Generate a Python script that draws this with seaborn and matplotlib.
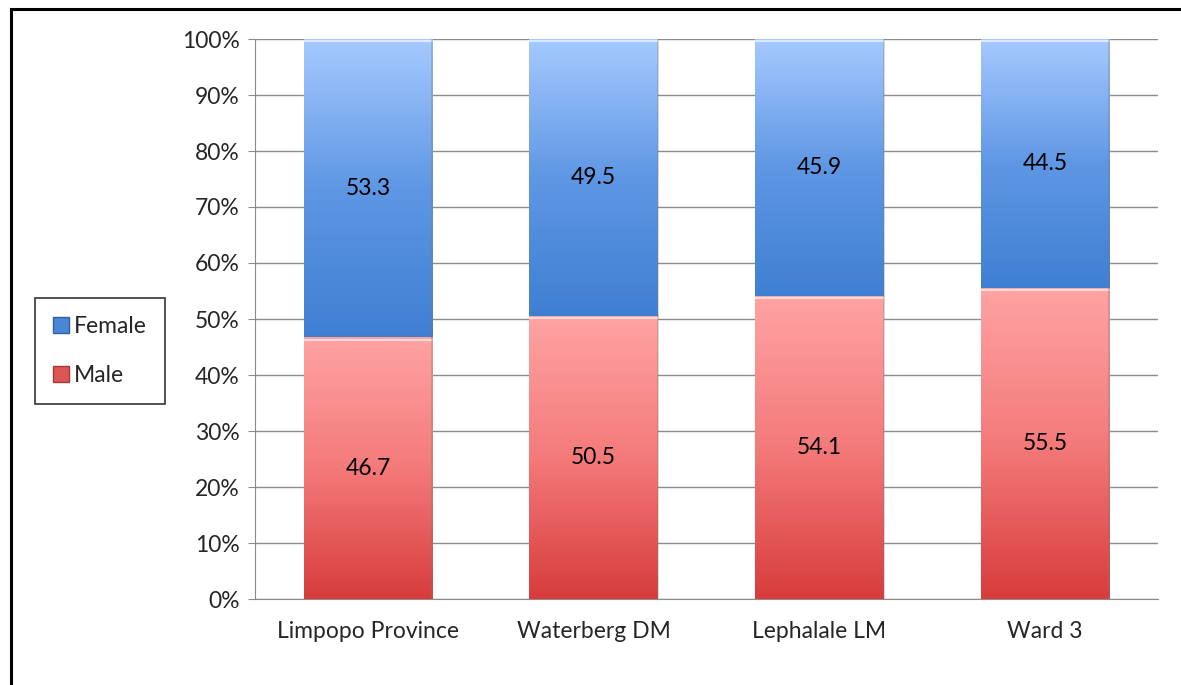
import numpy as np
import pandas as pd
import matplotlib
matplotlib.use("Agg")
import matplotlib.pyplot as plt
import seaborn as sns
from matplotlib.colors import LinearSegmentedColormap
from matplotlib.patches import Patch, Rectangle
from matplotlib.ticker import PercentFormatter

regions = ["Limpopo Province", "Waterberg DM", "Lephalale LM", "Ward 3"]
male = [46.7, 50.5, 54.1, 55.5]
female = [53.3, 49.5, 45.9, 44.5]

sns.set_style("white")
plt.rcParams["font.family"] = ["Lato", "DejaVu Sans"]

df = pd.DataFrame({"region": regions, "Male": male, "Female": female})
df["Total"] = df["Male"] + df["Female"]

fig = plt.figure(figsize=(11.81, 6.85), dpi=100)
ax = fig.add_axes([255 / 1181, 1 - 599 / 685, (1158 - 255) / 1181, (599 - 39) / 685])

# stacked: draw total (female colour) then male on top of it
sns.barplot(data=df, x="region", y="Total", color="#4a86d6", width=0.57, ax=ax,
            edgecolor="none", zorder=2)
sns.barplot(data=df, x="region", y="Male", color="#d94141", width=0.57, ax=ax,
            edgecolor="none", zorder=2)

red_cmap = LinearSegmentedColormap.from_list("red", ["#d83c3c", "#f47a7a", "#ffa3a3"])
blue_cmap = LinearSegmentedColormap.from_list("blue", ["#3f7fd2", "#5f97e4", "#a6caff"])

n = len(regions)
grad = np.linspace(0, 1, 256).reshape(-1, 1)
for i, p in enumerate(ax.patches):
    x0, w = p.get_x(), p.get_width()
    if i < n:
        # female segment sits above male
        y0, y1 = male[i], male[i] + female[i]
        cmap = blue_cmap
    else:
        y0, y1 = 0, male[i - n]
        cmap = red_cmap
    p.set_alpha(0)
    im = ax.imshow(grad, cmap=cmap, aspect="auto", origin="lower",
                   extent=(x0, x0 + w, y0, y1), zorder=3)
    clip = Rectangle((x0, y0), w, y1 - y0, transform=ax.transData)
    im.set_clip_path(clip)
    # thin light highlight on top edge and soft shadow on sides
    ax.plot([x0, x0 + w], [y1 - 0.4, y1 - 0.4], color="white", lw=1.5, alpha=0.6, zorder=4)
    ax.plot([x0 + w, x0 + w], [y0, y1], color="#7a7a7a", lw=1.2, alpha=0.35, zorder=4)

for i in range(n):
    ax.text(i, male[i] / 2, f"{male[i]:.1f}", ha="center", va="center",
            fontsize=16.5, color="black", zorder=5)
    ax.text(i, male[i] + female[i] / 2, f"{female[i]:.1f}", ha="center", va="center",
            fontsize=16.5, color="black", zorder=5)

ax.set_xlim(-0.5, n - 0.5)
ax.set_ylim(0, 100)
ax.set_yticks(np.arange(0, 101, 10))
ax.yaxis.set_major_formatter(PercentFormatter(decimals=0))
ax.grid(axis="y", color="#8c8c8c", lw=1, zorder=0)
ax.set_axisbelow(True)
for s in ["top", "right"]:
    ax.spines[s].set_visible(False)
ax.spines["left"].set_color("#8c8c8c")
ax.spines["bottom"].set_color("#8c8c8c")
ax.tick_params(axis="y", length=5, color="#8c8c8c", labelsize=16.5, pad=6, left=True)
ax.tick_params(axis="x", length=0, labelsize=16.5, pad=16)
ax.set_xlabel("")
ax.set_ylabel("")

handles = [Patch(facecolor="#4a86d6", edgecolor="#2f5f9e", label="Female"),
           Patch(facecolor="#dd5555", edgecolor="#a33a3a", label="Male")]
leg = fig.legend(handles=handles, loc="center left", bbox_to_anchor=(35 / 1181, 1 - 351 / 685),
                 frameon=True, fancybox=False, fontsize=16.5, handlelength=0.7,
                 handleheight=0.7, handletextpad=0.2, labelspacing=1.2,
                 borderpad=0.8, borderaxespad=0)
leg.get_frame().set_edgecolor("black")
leg.get_frame().set_linewidth(1.2)

# outer frame of the picture
fig.add_artist(Rectangle((11 / 1181, -0.05), 1.2, 1 - 9 / 685 + 0.05, transform=fig.transFigure,
                         fill=False, edgecolor="black", lw=2.2))

fig.savefig("out.png", dpi=100)
